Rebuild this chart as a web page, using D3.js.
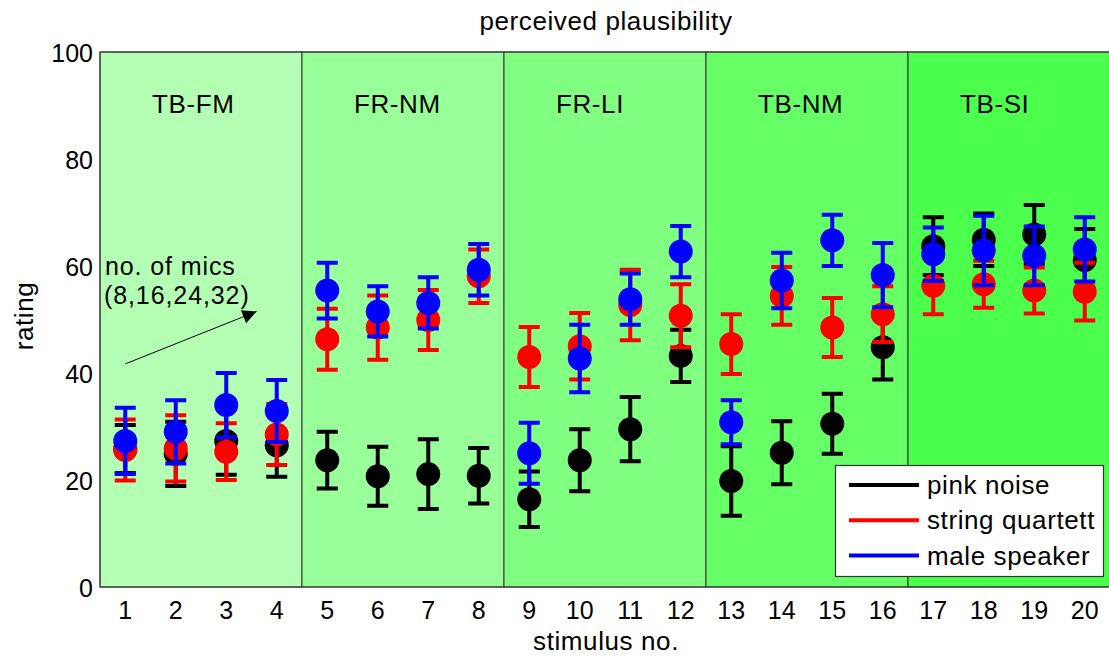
<!DOCTYPE html>
<html lang="en">
<head>
<meta charset="utf-8">
<title>perceived plausibility</title>
<script src="https://cdn.jsdelivr.net/npm/d3@7"></script>
<style>
  body { margin: 0; background: #fff; }
  text { font-family: "Liberation Sans", Arial, Helvetica, sans-serif; font-size: 26px; letter-spacing: 0.6px; fill: #000; }
  text.yt, text.xt { font-size: 25px; letter-spacing: 0; }
  text.note { font-size: 25px; letter-spacing: 0.9px; }
</style>
</head>
<body>
<div id="chart"></div>
<script>
// data
var stimuli = d3.range(1, 21);
var groups = ["TB-FM", "FR-NM", "FR-LI", "TB-NM", "TB-SI"];
var groupColors = ["#b3ffb3", "#99ff99", "#80ff80", "#66ff66", "#4dff4d"];
var yTicks = [0, 20, 40, 60, 80, 100];

var pinkMean = [25.8, 24.9, 27.3, 26.5, 23.7, 20.7, 21.1, 20.8, 16.4, 23.7, 29.5, 43.2, 19.8, 25.1, 30.5, 44.8, 63.7, 64.9, 65.9, 61.1];
var pinkErr  = [4.5, 6.0, 6.3, 5.9, 5.3, 5.5, 6.5, 5.2, 5.2, 5.8, 6.0, 4.9, 6.5, 5.9, 5.6, 6.0, 5.4, 4.9, 5.5, 5.8];
var quartMean = [25.6, 25.9, 25.3, 28.5, 46.3, 48.5, 49.9, 58.1, 43.0, 45.0, 52.7, 50.7, 45.4, 54.4, 48.5, 51.0, 56.3, 56.6, 55.4, 55.2];
var quartErr  = [5.7, 6.2, 5.3, 5.7, 5.7, 6.0, 5.6, 5.0, 5.6, 6.2, 6.6, 5.9, 5.6, 5.4, 5.5, 5.2, 5.3, 4.4, 4.3, 5.4];
var speakMean = [27.3, 29.0, 34.0, 32.9, 55.4, 51.5, 53.1, 59.3, 25.0, 42.7, 53.8, 62.7, 30.8, 57.3, 64.8, 58.3, 62.2, 62.9, 61.9, 63.1];
var speakErr  = [6.2, 5.9, 6.0, 5.8, 5.2, 4.7, 4.8, 4.8, 5.7, 6.3, 4.8, 4.8, 4.1, 5.2, 4.8, 6.0, 5.0, 6.5, 5.5, 6.0];
var noteLines = ["no. of mics", "(8,16,24,32)"];

var series = [
  {name: "pink noise", color: "#000000", mean: pinkMean, err: pinkErr},
  {name: "string quartett", color: "#ff0000", mean: quartMean, err: quartErr},
  {name: "male speaker", color: "#0000ff", mean: speakMean, err: speakErr}
];

var W = 1109, H = 658;
var x = d3.scaleLinear().domain([0.5, 20.5]).range([100, 1110]);
var y = d3.scaleLinear().domain([0, 100]).range([587, 52]);

var svg = d3.select("#chart").append("svg")
  .attr("width", W).attr("height", H);

// group background patches
svg.selectAll("rect.grp")
  .data(groups)
  .enter().append("rect")
  .attr("class", "grp")
  .attr("x", function(d, i) { return x(i * 4 + 0.5); })
  .attr("y", y(100))
  .attr("width", x(4.5) - x(0.5))
  .attr("height", y(0) - y(100))
  .attr("fill", function(d, i) { return groupColors[i]; })
  .attr("stroke", "#333")
  .attr("stroke-width", 1);

svg.selectAll("text.grp")
  .data(groups)
  .enter().append("text")
  .attr("class", "grp")
  .attr("x", function(d, i) { return x(i * 4 + 1.53); })
  .attr("y", y(88.6))
  .text(function(d) { return d; });

// axis frame
svg.append("path")
  .attr("d", "M" + x(20.5) + "," + y(100) + "H" + x(0.5) + "V" + y(0) + "H" + x(20.5))
  .attr("fill", "none").attr("stroke", "#333").attr("stroke-width", 1);

// tick labels
svg.selectAll("text.yt")
  .data(yTicks)
  .enter().append("text")
  .attr("class", "yt")
  .attr("x", 93)
  .attr("y", function(d) { return y(d) + 10; })
  .attr("text-anchor", "end")
  .text(function(d) { return d; });

svg.selectAll("text.xt")
  .data(stimuli)
  .enter().append("text")
  .attr("class", "xt")
  .attr("x", function(d) { return x(d); })
  .attr("y", 619)
  .attr("text-anchor", "middle")
  .text(function(d) { return d; });

svg.append("text").attr("x", 606).attr("y", 30).attr("text-anchor", "middle").text("perceived plausibility");
svg.append("text").attr("x", 606).attr("y", 650).attr("text-anchor", "middle").text("stimulus no.");
svg.append("text").attr("transform", "translate(33,316) rotate(-90)").attr("text-anchor", "middle").text("rating");

// annotation, two lines
svg.selectAll("text.note")
  .data(noteLines)
  .enter().append("text")
  .attr("class", "note")
  .attr("x", function(d, i) { return i ? 104 : 105; })
  .attr("y", function(d, i) { return i ? 304 : 275; })
  .text(function(d) { return d; });

svg.append("defs").append("marker")
  .attr("id", "arrow")
  .attr("viewBox", "0 0 10 10")
  .attr("refX", 10).attr("refY", 5)
  .attr("markerWidth", 18).attr("markerHeight", 14)
  .attr("markerUnits", "userSpaceOnUse")
  .attr("orient", "auto")
  .append("path").attr("d", "M0,0L10,5L0,10z").attr("fill", "#000");

svg.append("line")
  .attr("x1", x(1.0)).attr("y1", y(41.7))
  .attr("x2", x(3.6)).attr("y2", y(51.5))
  .attr("stroke", "#000").attr("stroke-width", 1)
  .attr("marker-end", "url(#arrow)");

// error bars + markers, one series at a time
var cap = 10.5;
series.forEach(function(s) {
  var g = svg.append("g");
  var pts = stimuli.map(function(st, i) { return {s: st, m: s.mean[i], e: s.err[i]}; });
  g.selectAll("path.eb")
    .data(pts)
    .enter().append("path")
    .attr("d", function(d) {
      var cx = x(d.s), t = y(d.m + d.e), b = y(d.m - d.e);
      return "M" + cx + "," + t + "V" + b +
             "M" + (cx - cap) + "," + t + "H" + (cx + cap) +
             "M" + (cx - cap) + "," + b + "H" + (cx + cap);
    })
    .attr("fill", "none").attr("stroke", s.color).attr("stroke-width", 4);
  g.selectAll("circle")
    .data(pts)
    .enter().append("circle")
    .attr("cx", function(d) { return x(d.s); })
    .attr("cy", function(d) { return y(d.m); })
    .attr("r", 12)
    .attr("fill", s.color);
});

// legend
var lg = svg.append("g");
lg.append("rect")
  .attr("x", 835.5).attr("y", 465.5).attr("width", 268).attr("height", 111)
  .attr("fill", "#fff").attr("stroke", "#333").attr("stroke-width", 1.2);
series.forEach(function(s, i) {
  var ly = 485 + i * 35.3;
  lg.append("line").attr("x1", 849).attr("x2", 919).attr("y1", ly).attr("y2", ly)
    .attr("stroke", s.color).attr("stroke-width", 4);
  lg.append("text").attr("x", 927).attr("y", ly + 9).text(s.name);
});
</script>
</body>
</html>
